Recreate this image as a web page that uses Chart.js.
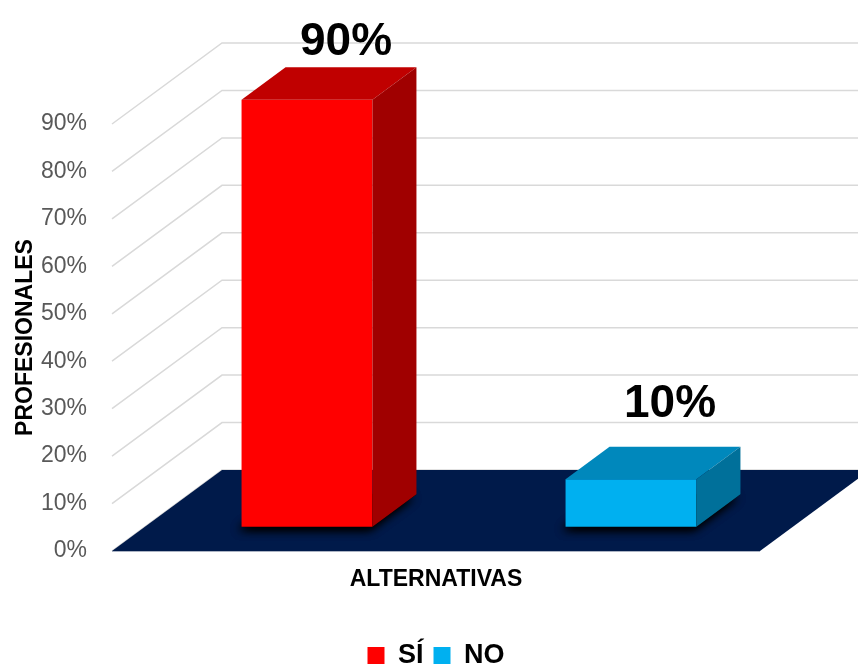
<!DOCTYPE html>
<html>
<head>
<meta charset="utf-8">
<title>Profesionales</title>
<script src="https://cdn.jsdelivr.net/npm/chart.js@4.4.1/dist/chart.umd.min.js"></script>
<style>
  html, body { margin: 0; padding: 0; background: #fff; }
  canvas { display: block; }
</style>
</head>
<body>
<canvas id="chart" width="858" height="668"></canvas>
<script>
// ---- data ----
var categories = ['SÍ', 'NO'];
var seriesNames = ['SÍ', 'NO'];
var siValues = [90, null];
var noValues = [null, 10];
var yTicksMax = 90;
var yTicksStep = 10;

// ---- style ----
var FONT = '"Liberation Sans", Arial, Helvetica, sans-serif';
var FRONT = ['#ff0000', '#00b0f0'];
var TOP   = ['#c00000', '#0088bc'];
var SIDE  = ['#a00000', '#00709a'];
var FLOOR = '#001a4a';
var GRID  = '#d9d9d9';

// floor depth: front edge -> back wall (px)
var DEPTH_X = 110, DEPTH_Y = -81;
// where the bars sit inside that depth
var BAR_FRONT = 0.3, BAR_DEPTH = 0.4;

// fake 3D: side wall grid, floor, shadows, top/side faces, value labels
var scene3d = {
  id: 'scene3d',
  beforeDatasetsDraw: function (chart) {
    var ctx = chart.ctx, a = chart.chartArea, ys = chart.scales.y;
    ctx.save();
    ctx.strokeStyle = GRID;
    ctx.lineWidth = 1.5;
    ys.ticks.forEach(function (t) {
      var py = ys.getPixelForValue(t.value);
      ctx.beginPath();
      ctx.moveTo(a.left, py);
      ctx.lineTo(a.left + DEPTH_X, py + DEPTH_Y);
      ctx.lineTo(chart.width, py + DEPTH_Y);
      ctx.stroke();
    });
    // floor
    ctx.fillStyle = FLOOR;
    ctx.beginPath();
    ctx.moveTo(a.left, a.bottom);
    ctx.lineTo(a.right, a.bottom);
    ctx.lineTo(a.right + DEPTH_X, a.bottom + DEPTH_Y);
    ctx.lineTo(a.left + DEPTH_X, a.bottom + DEPTH_Y);
    ctx.closePath();
    ctx.fill();
    ctx.strokeStyle = 'rgba(150,160,180,0.8)';
    ctx.lineWidth = 1;
    ctx.beginPath();
    ctx.moveTo(a.left, a.bottom + 0.5);
    ctx.lineTo(a.right, a.bottom + 0.5);
    ctx.stroke();
    ctx.restore();

    // bars are drawn shifted into the floor depth; restored in afterDatasetsDraw
    ctx.save();
    ctx.translate(DEPTH_X * BAR_FRONT, DEPTH_Y * BAR_FRONT);
    var bx = DEPTH_X * BAR_DEPTH, by = DEPTH_Y * BAR_DEPTH;
    eachBar(chart, function (b) {
      ctx.save();
      ctx.shadowColor = 'rgba(0,0,0,1)';
      ctx.shadowBlur = 10;
      ctx.shadowOffsetX = -3;
      ctx.shadowOffsetY = 3;
      ctx.fillStyle = '#000';
      ctx.beginPath();
      ctx.moveTo(b.x - b.width / 2, b.base);
      ctx.lineTo(b.x + b.width / 2, b.base);
      ctx.lineTo(b.x + b.width / 2 + bx, b.base + by);
      ctx.lineTo(b.x - b.width / 2 + bx, b.base + by);
      ctx.closePath();
      ctx.fill();
      ctx.fill();
      ctx.restore();
    });
  },
  afterDatasetsDraw: function (chart) {
    var ctx = chart.ctx;
    var bx = DEPTH_X * BAR_DEPTH, by = DEPTH_Y * BAR_DEPTH;
    eachBar(chart, function (b, i) {
      var l = b.x - b.width / 2, r = b.x + b.width / 2;
      // top
      ctx.fillStyle = TOP[i];
      ctx.beginPath();
      ctx.moveTo(l, b.y);
      ctx.lineTo(r, b.y);
      ctx.lineTo(r + bx, b.y + by);
      ctx.lineTo(l + bx, b.y + by);
      ctx.closePath();
      ctx.fill();
      // right side
      ctx.fillStyle = SIDE[i];
      ctx.beginPath();
      ctx.moveTo(r, b.y);
      ctx.lineTo(r + bx, b.y + by);
      ctx.lineTo(r + bx, b.base + by);
      ctx.lineTo(r, b.base);
      ctx.closePath();
      ctx.fill();
    });
    ctx.restore();

    // value labels above the bars
    var fx = DEPTH_X * BAR_FRONT, fy = DEPTH_Y * BAR_FRONT;
    ctx.save();
    ctx.font = 'bold 46px ' + FONT;
    ctx.fillStyle = '#000';
    ctx.textAlign = 'center';
    ctx.textBaseline = 'alphabetic';
    eachBar(chart, function (b) {
      var y = Math.max(b.y + fy - 62, 55);
      ctx.fillText(b.value + '%', b.x + fx + 39, y);
    });
    ctx.restore();
  }
};

function eachBar(chart, fn) {
  chart.data.datasets.forEach(function (ds, i) {
    var meta = chart.getDatasetMeta(i);
    meta.data.forEach(function (el, j) {
      var v = ds.data[j];
      if (v === null || v === undefined) return;
      var p = el.getProps(['x', 'y', 'base', 'width'], true);
      p.value = v;
      fn(p, i, j);
    });
  });
}

new Chart(document.getElementById('chart'), {
  type: 'bar',
  data: {
    labels: categories,
    datasets: [
      { label: seriesNames[0], data: siValues, backgroundColor: FRONT[0], borderWidth: 0, clip: false },
      { label: seriesNames[1], data: noValues, backgroundColor: FRONT[1], borderWidth: 0, clip: false }
    ]
  },
  options: {
    responsive: false,
    animation: false,
    devicePixelRatio: 1,
    skipNull: true,
    categoryPercentage: 1,
    barPercentage: 0.404,
    layout: { padding: { top: 124, left: 8, right: 98, bottom: 0 } },
    plugins: {
      legend: {
        position: 'bottom',
        fullSize: false,
        maxHeight: 36,
        labels: {
          font: { family: FONT, size: 27, weight: 'bold' },
          color: '#000',
          boxWidth: 17,
          boxHeight: 17,
          padding: 10
        }
      },
      tooltip: { enabled: false }
    },
    scales: {
      x: {
        grid: { display: false },
        border: { display: false },
        ticks: { display: false },
        title: {
          display: true,
          text: 'ALTERNATIVAS',
          color: '#000',
          font: { family: FONT, size: 23, weight: 'bold' },
          padding: { top: 0, bottom: 39 }
        },
        afterFit: function (s) { s.height = 81; }
      },
      y: {
        min: 0,
        max: yTicksMax,
        grid: { display: false },
        border: { display: false },
        ticks: {
          stepSize: yTicksStep,
          padding: 17,
          color: '#595959',
          font: { family: FONT, size: 23 },
          callback: function (v) { return v + '%'; }
        },
        title: {
          display: true,
          text: 'PROFESIONALES',
          color: '#000',
          font: { family: FONT, size: 23, weight: 'bold' },
          padding: { top: 4, bottom: 0 }
        },
        afterFit: function (s) { s.width = 104; }
      }
    }
  },
  plugins: [scene3d]
});
</script>
</body>
</html>
